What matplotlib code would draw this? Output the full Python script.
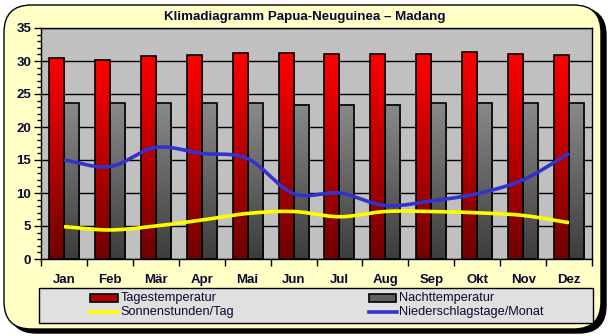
import numpy as np
import matplotlib
matplotlib.use("Agg")
import matplotlib.pyplot as plt
from matplotlib.patches import FancyBboxPatch, Rectangle
from matplotlib.colors import LinearSegmentedColormap
from matplotlib.lines import Line2D
from matplotlib.ticker import MultipleLocator, FixedLocator, NullFormatter

plt.rcParams['font.family'] = ['Liberation Sans', 'DejaVu Sans']

months = ["Jan", "Feb", "Mär", "Apr", "Mai", "Jun", "Jul", "Aug", "Sep", "Okt", "Nov", "Dez"]
tagestemperatur = [30.4, 30.1, 30.7, 30.9, 31.2, 31.2, 31.0, 31.0, 31.0, 31.3, 31.0, 30.9]
nachttemperatur = [23.6, 23.6, 23.6, 23.6, 23.6, 23.4, 23.4, 23.4, 23.6, 23.7, 23.6, 23.6]
sonnenstunden = [4.9, 4.4, 5.0, 5.9, 6.9, 7.2, 6.4, 7.2, 7.2, 7.0, 6.6, 5.5]
niederschlagstage = [15.0, 14.0, 16.9, 16.0, 15.2, 9.9, 10.0, 8.1, 8.8, 9.9, 12.0, 16.0]

title = "Klimadiagramm Papua-Neuguinea – Madang"
labels = ["Tagestemperatur", "Nachttemperatur", "Sonnenstunden/Tag", "Niederschlagstage/Monat"]

TEXT = "#0A0A30"
W, H = 609, 336
fig = plt.figure(figsize=(W / 100, H / 100), dpi=100)
fig.patch.set_facecolor("white")


def fx(px):
    return px / W


def fy(py):
    return 1 - py / H


# outer panel with drop shadow
shadow = FancyBboxPatch((fx(9), fy(333)), 597 / W, 325 / H,
                        boxstyle="round,pad=0,rounding_size=0.045",
                        transform=fig.transFigure, facecolor="black",
                        edgecolor="black", mutation_aspect=W / H, zorder=0)
panel = FancyBboxPatch((fx(4), fy(329)), 597 / W, 324 / H,
                       boxstyle="round,pad=0,rounding_size=0.045",
                       transform=fig.transFigure, facecolor="#FFFFC6",
                       edgecolor="black", linewidth=1.0,
                       mutation_aspect=W / H, zorder=1)
fig.patches.extend([shadow, panel])

ax = fig.add_axes([fx(41), fy(259), 551 / W, 231 / H])
ax.set_facecolor("#C0C0C0")
ax.set_zorder(2)

n = len(months)
x = np.arange(n)
bw = 0.327

red_cmap = LinearSegmentedColormap.from_list("red", ["#700000", "#FF0000"])
gray_cmap = LinearSegmentedColormap.from_list("gray", ["#3C3C3C", "#8A8A8A"])
grad = np.linspace(0, 1, 256).reshape(-1, 1)


def gradient_bars(xs, heights, cmap):
    for xc, h in zip(xs, heights):
        x0 = xc - bw / 2
        ax.imshow(grad, cmap=cmap, origin="lower", aspect="auto",
                  extent=(x0, x0 + bw, 0, h), zorder=3, interpolation="bilinear")
        ax.add_patch(Rectangle((x0, 0), bw, h, fill=False, edgecolor="black",
                               linewidth=1.2, zorder=4))


gradient_bars(x - bw / 2, tagestemperatur, red_cmap)
gradient_bars(x + bw / 2, nachttemperatur, gray_cmap)


def smooth(xs, ys, steps=30):
    # Catmull-Rom style smoothing for the line series
    xs = np.asarray(xs, float)
    ys = np.asarray(ys, float)
    px = np.concatenate([[2 * xs[0] - xs[1]], xs, [2 * xs[-1] - xs[-2]]])
    py = np.concatenate([[2 * ys[0] - ys[1]], ys, [2 * ys[-1] - ys[-2]]])
    out_x, out_y = [], []
    t = np.linspace(0, 1, steps, endpoint=False)
    for i in range(1, len(px) - 2):
        for arr, out in ((px, out_x), (py, out_y)):
            p0, p1, p2, p3 = arr[i - 1], arr[i], arr[i + 1], arr[i + 2]
            seg = 0.5 * ((2 * p1) + (-p0 + p2) * t
                         + (2 * p0 - 5 * p1 + 4 * p2 - p3) * t ** 2
                         + (-p0 + 3 * p1 - 3 * p2 + p3) * t ** 3)
            out.extend(seg)
    out_x.append(xs[-1])
    out_y.append(ys[-1])
    return np.array(out_x), np.array(out_y)


SUN = "#FFFF00"
RAIN = "#3333CC"
sx, sy = smooth(x, sonnenstunden)
ax.plot(sx, sy, color=SUN, linewidth=2.6, zorder=6, solid_capstyle="butt")
nx, ny = smooth(x, niederschlagstage)
ax.plot(nx, ny, color=RAIN, linewidth=2.6, zorder=6, solid_capstyle="butt")

ax.set_xlim(-0.5, n - 0.5)
ax.set_ylim(0, 35)
ax.yaxis.set_major_locator(MultipleLocator(5))
ax.yaxis.set_minor_locator(MultipleLocator(1))
ax.grid(axis="y", which="major", color="black", linewidth=1.0, zorder=2)
ax.set_axisbelow(True)

ax.xaxis.set_major_locator(FixedLocator(np.arange(-0.5, n, 1.0)))
ax.xaxis.set_major_formatter(NullFormatter())
ax.xaxis.set_minor_locator(FixedLocator(x))
ax.set_xticklabels(months, minor=True)
ax.tick_params(axis="x", which="major", direction="out", length=5, width=1)
ax.tick_params(axis="x", which="minor", length=0, pad=11, labelsize=9.5, labelcolor=TEXT)
ax.tick_params(axis="y", which="major", direction="out", length=5, width=1,
               labelsize=9.5, pad=2, labelcolor=TEXT)
ax.tick_params(axis="y", which="minor", direction="out", length=3, width=1)
for lbl in ax.get_xticklabels(minor=True) + ax.get_yticklabels():
    lbl.set_fontweight("bold")
for sp in ax.spines.values():
    sp.set_linewidth(1.0)
    sp.set_color("black")

fig.text(0.5, fy(17), title, ha="center", va="center", fontsize=9.6,
         fontweight="bold", color=TEXT, zorder=5)

# legend box below the plot
fig.add_artist(Rectangle((fx(39), fy(323)), 554 / W, 35.5 / H,
                         transform=fig.transFigure, facecolor="#E0E0E0",
                         edgecolor="black", linewidth=1.0, zorder=5))
row_y = [fy(297.8), fy(312.3)]
col_x = [90, 368.5]
entries = [
    (0, 0, "bar", "#B00000"),
    (1, 0, "bar", "#606060"),
    (0, 1, "line", SUN),
    (1, 1, "line", RAIN),
]
legend_labels = [labels[0], labels[1], labels[2], labels[3]]
for (col, row, kind, color), text in zip(entries, legend_labels):
    x0 = col_x[col]
    y = row_y[row]
    if kind == "bar":
        fig.add_artist(Rectangle((fx(x0), y - 3.7 / H), 27.5 / W, 7.4 / H,
                                 transform=fig.transFigure, facecolor=color,
                                 edgecolor="black", linewidth=1.2, zorder=6))
    else:
        fig.add_artist(Line2D([fx(x0), fx(x0 + 28)], [y, y], transform=fig.transFigure,
                              color=color, linewidth=2.6, zorder=6))
    fig.text(fx(x0 + 30.5), y, text, ha="left", va="center", fontsize=9.2,
             color=TEXT, zorder=7)

fig.savefig("out.png", dpi=100)
